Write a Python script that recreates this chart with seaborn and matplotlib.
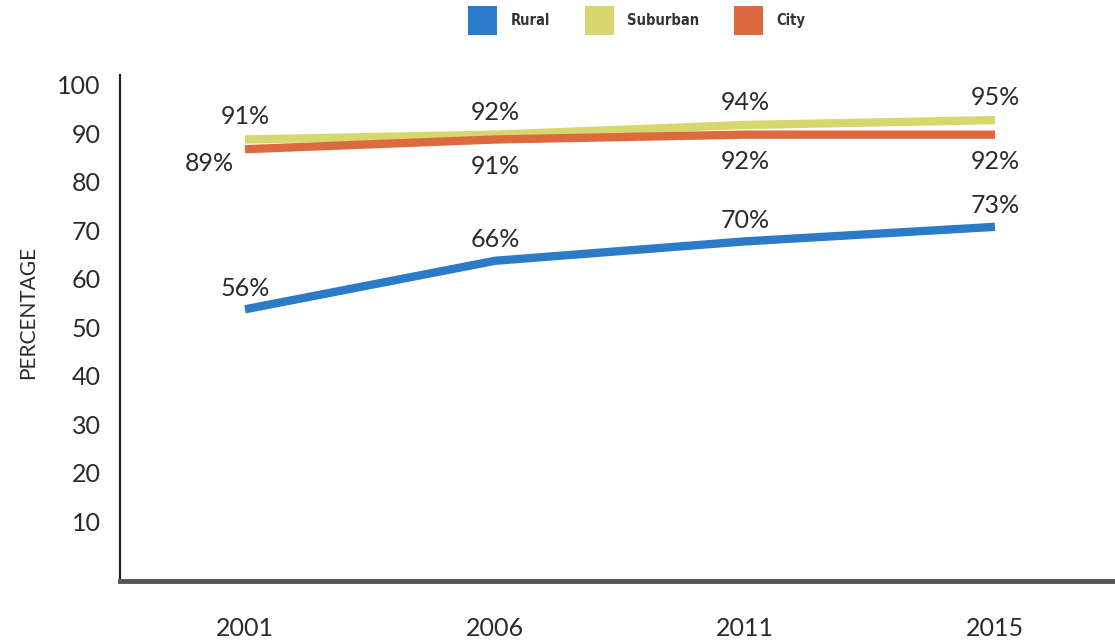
import matplotlib
matplotlib.use("Agg")
import matplotlib.pyplot as plt
import matplotlib.transforms as mtransforms
from matplotlib.patches import Patch
import seaborn as sns
import pandas as pd

years = ["2001", "2006", "2011", "2015"]
rural = [56, 66, 70, 73]
suburban = [91, 92, 94, 95]
city = [89, 91, 92, 92]
series_names = ["Rural", "Suburban", "City"]
y_ticks = [10, 20, 30, 40, 50, 60, 70, 80, 90, 100]

colors = {"Rural": "#2b7bc9", "Suburban": "#d6d76c", "City": "#dc6a3e"}

df = pd.DataFrame({
    "year": years * 3,
    "value": rural + suburban + city,
    "area": ["Rural"] * 4 + ["Suburban"] * 4 + ["City"] * 4,
})
df["pos"] = df["year"].map({y: i for i, y in enumerate(years)})

sns.set_theme(style="white")
plt.rcParams["font.family"] = ["Lato", "DejaVu Sans"]

TXT_COLOR = "#2a2a2a"

fig = plt.figure(figsize=(11.15, 6.43), dpi=100)
ax = fig.add_axes([0.1076, 0.0964, 0.8924, 0.787])

sns.lineplot(data=df, x="pos", y="value", hue="area", hue_order=series_names,
             palette=colors, linewidth=6, legend=False, ax=ax,
             solid_capstyle="butt")

ax.set_xlim(-0.5, 3.48)
ax.set_ylim(0, 104.3)
ax.set_xticks(range(len(years)))
ax.set_xticklabels(years, fontsize=18, color=TXT_COLOR)
ax.set_yticks(y_ticks)
ax.set_yticklabels([str(t) for t in y_ticks], fontsize=18, color=TXT_COLOR)
ax.tick_params(axis="x", length=0, pad=26)
ax.tick_params(axis="y", length=0, pad=14)
# tick labels printed slightly above their gridline position in the original
offset = mtransforms.ScaledTranslation(0, 11 / 100, fig.dpi_scale_trans)
for lab in ax.get_yticklabels():
    lab.set_transform(lab.get_transform() + offset)

ax.set_xlabel("")
ax.set_ylabel("PERCENTAGE", fontsize=15, color=TXT_COLOR)
ax.yaxis.set_label_coords(-0.082, 0.53)

for side in ["top", "right"]:
    ax.spines[side].set_visible(False)
ax.spines["left"].set_color("#222222")
ax.spines["left"].set_linewidth(1.6)
ax.spines["bottom"].set_color("#555555")
ax.spines["bottom"].set_linewidth(3.5)

txt = dict(fontsize=18, color=TXT_COLOR)
for i, v in enumerate(suburban):
    ax.annotate(f"{v}%", (i, v), xytext=(0, 8), textcoords="offset points",
                ha="center", va="bottom", **txt)
for i, v in enumerate(rural):
    ax.annotate(f"{v}%", (i, v), xytext=(0, 7), textcoords="offset points",
                ha="center", va="bottom", **txt)
for i, v in enumerate(city):
    if i == 0:
        ax.annotate(f"{v}%", (i, v), xytext=(-8, -10), textcoords="offset points",
                    ha="right", va="center", **txt)
    else:
        ax.annotate(f"{v}%", (i, v), xytext=(0, -11), textcoords="offset points",
                    ha="center", va="top", **txt)

handles = [Patch(facecolor=colors[n], edgecolor="none", label=n) for n in series_names]
leg = fig.legend(handles=handles, loc="center", bbox_to_anchor=(0.571, 0.968), ncol=3,
                 frameon=False, handlelength=2.0, handleheight=2.7,
                 handletextpad=0.9, columnspacing=2.4,
                 prop={"family": "DejaVu Sans", "stretch": "condensed",
                       "weight": "bold", "size": 10.5})
for t in leg.get_texts():
    t.set_color("#333333")

fig.savefig("out.png", dpi=100)
